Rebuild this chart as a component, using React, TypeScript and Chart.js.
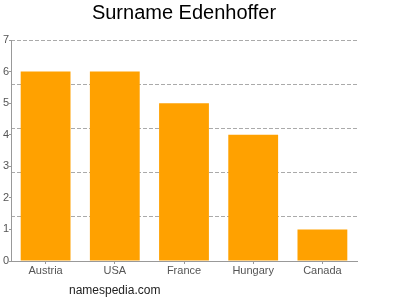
import React, { useEffect, useRef } from "react";
import { Chart, registerables } from "chart.js";

Chart.register(...registerables);

const categories = ["Austria", "USA", "France", "Hungary", "Canada"];
const counts = [6, 6, 5, 4, 1];
const gridValues = [0, 1.4, 2.8, 4.2, 5.6, 7];
const titleText = "Surname Edenhoffer";
const watermark = "namespedia.com";

const FONT = "'Liberation Sans', Arial, sans-serif";

export default function App() {
  const ref = useRef<HTMLCanvasElement | null>(null);

  useEffect(() => {
    document.body.style.margin = "0";
    const canvas = ref.current;
    if (!canvas) return;

    const watermarkPlugin = {
      id: "watermark",
      afterDraw(chart: any) {
        const ctx = chart.ctx;
        ctx.save();
        ctx.font = `12px ${FONT}`;
        ctx.fillStyle = "#222";
        ctx.textAlign = "left";
        ctx.textBaseline = "middle";
        ctx.fillText(watermark, 69, 291);
        ctx.restore();
      },
    };

    const chart = new Chart(canvas, {
      type: "bar",
      data: {
        labels: categories,
        datasets: [
          {
            data: counts,
            backgroundColor: "#ffa100",
            borderWidth: 0,
            categoryPercentage: 1,
            barPercentage: 0.72,
          },
        ],
      },
      options: {
        responsive: false,
        animation: false,
        layout: { padding: { left: 0, right: 43, top: 1, bottom: 19 } },
        plugins: {
          legend: { display: false },
          tooltip: { enabled: false },
          title: {
            display: true,
            text: titleText,
            fullSize: false,
            color: "#000",
            font: { family: FONT, size: 20, weight: "normal" },
            padding: { top: 0, bottom: 15 },
          },
        },
        scales: {
          x: {
            grid: {
              display: true,
              drawOnChartArea: false,
              drawTicks: true,
              tickLength: 3,
              offset: false,
              color: "#999",
            },
            border: { display: true, color: "#999" },
            ticks: {
              color: "#555",
              padding: 0,
              font: { family: FONT, size: 11 },
            },
            afterFit: (scale: any) => {
              scale.height = 20;
            },
          },
          y: {
            min: 0,
            max: 7,
            position: "left",
            grid: {
              display: true,
              drawOnChartArea: false,
              drawTicks: true,
              tickLength: 2,
              color: "#999",
            },
            border: { display: true, color: "#999" },
            ticks: {
              stepSize: 1,
              color: "#555",
              padding: 0,
              font: { family: FONT, size: 11 },
            },
            afterFit: (scale: any) => {
              scale.width = 11;
            },
          },
          yGrid: {
            type: "linear",
            min: 0,
            max: 7,
            position: "left",
            grid: {
              display: true,
              drawTicks: false,
              color: (ctx: any) => (ctx.tick && ctx.tick.value === 0 ? "rgba(0,0,0,0)" : "#aaa"),
              lineWidth: 1,
            },
            border: { display: false, dash: [4, 2] },
            ticks: { display: false },
            afterBuildTicks: (scale: any) => {
              scale.ticks = gridValues.map((v) => ({ value: v }));
            },
            afterFit: (scale: any) => {
              scale.width = 0;
            },
          },
        },
      } as any,
      plugins: [watermarkPlugin],
    });

    return () => chart.destroy();
  }, []);

  return (
    <div style={{ width: 400, height: 300 }}>
      <canvas ref={ref} width={400} height={300} style={{ display: "block" }} />
    </div>
  );
}
